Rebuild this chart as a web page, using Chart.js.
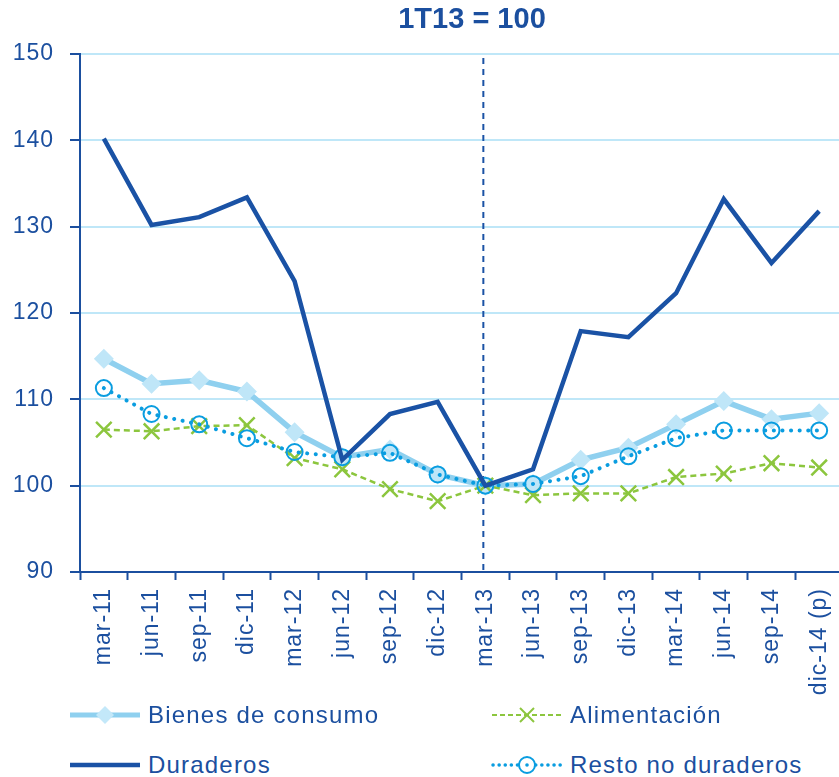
<!DOCTYPE html>
<html>
<head>
    <title>1T13 = 100</title>
    <script src="https://cdn.jsdelivr.net/npm/chart.js"></script>
    <style>
        body {
            margin: 0;
            background-color: white;
            font-family: "Liberation Sans", Arial, sans-serif;
        }
        .wrap {
            position: relative;
            width: 839px;
            height: 777px;
            overflow: hidden;
        }
        #chart {
            position: absolute;
            left: 0;
            top: 0;
        }
        .title {
            position: absolute;
            top: 2px;
            left: 322px;
            width: 300px;
            text-align: center;
            font-weight: bold;
            font-size: 29px;
            color: #1b4f9f;
        }
        .legend-item {
            position: absolute;
            display: flex;
            align-items: center;
            font-size: 24px;
            letter-spacing: 1.2px;
            color: #1b4f9f;
            white-space: nowrap;
        }
        .legend-item svg {
            margin-right: 6px;
        }
    </style>
</head>
<body>
    <div class="wrap">
        <canvas id="chart" width="843" height="702"></canvas>
        <div class="title">1T13 = 100</div>

        <div class="legend-item" style="left:68px; top:700px;">
            <svg width="74" height="30">
                <line x1="2" y1="15" x2="72" y2="15" stroke="#8fd0ef" stroke-width="5"/>
                <polygon points="37,6 46,15 37,24 28,15" fill="#c3e8f9"/>
            </svg>Bienes de consumo
        </div>
        <div class="legend-item" style="left:490px; top:700px;">
            <svg width="74" height="30">
                <line x1="2" y1="15" x2="72" y2="15" stroke="#8cc63e" stroke-width="2" stroke-dasharray="5,3"/>
                <line x1="30" y1="8" x2="44" y2="22" stroke="#8cc63e" stroke-width="2"/>
                <line x1="44" y1="8" x2="30" y2="22" stroke="#8cc63e" stroke-width="2"/>
            </svg>Alimentación
        </div>
        <div class="legend-item" style="left:68px; top:750px;">
            <svg width="74" height="30">
                <line x1="2" y1="15" x2="72" y2="15" stroke="#1a52a5" stroke-width="4.5"/>
            </svg>Duraderos
        </div>
        <div class="legend-item" style="left:490px; top:750px;">
            <svg width="74" height="30">
                <line x1="3" y1="15" x2="72" y2="15" stroke="#0a9de0" stroke-width="3.5" stroke-dasharray="0.1,6" stroke-linecap="round"/>
                <circle cx="37" cy="15" r="8" fill="white" stroke="#0a9de0" stroke-width="2"/>
                <circle cx="37" cy="15" r="1.8" fill="#0a9de0"/>
            </svg>Resto no duraderos
        </div>
    </div>

    <script>
        // Categories (quarters)
        const labels = ['mar-11', 'jun-11', 'sep-11', 'dic-11', 'mar-12', 'jun-12', 'sep-12', 'dic-12',
                        'mar-13', 'jun-13', 'sep-13', 'dic-13', 'mar-14', 'jun-14', 'sep-14', 'dic-14 (p)'];

        // Series, 1T13 = 100
        const bienesConsumo = [114.7, 111.8, 112.2, 110.9, 106.2, 103.3, 104.2, 101.3,
                               100.0, 100.2, 103.0, 104.4, 107.1, 109.8, 107.7, 108.4];
        const alimentacion = [106.5, 106.3, 106.9, 107.0, 103.2, 101.9, 99.6, 98.2,
                              100.0, 98.9, 99.1, 99.1, 101.0, 101.4, 102.6, 102.1];
        const duraderos = [140.2, 130.2, 131.1, 133.4, 123.7, 103.0, 108.3, 109.7,
                           100.0, 101.9, 117.9, 117.2, 122.3, 133.2, 125.8, 131.8];
        const restoNoDuraderos = [111.3, 108.3, 107.1, 105.5, 103.9, 103.3, 103.8, 101.3,
                                  100.0, 100.2, 101.1, 103.4, 105.5, 106.4, 106.4, 106.4];

        // Y axis ticks
        const yMin = 90;
        const yMax = 150;
        const yStep = 10;

        // Base quarter marked with dashed line
        const baseQuarter = 'mar-13';

        const darkBlue = '#1b4f9f';
        const tickFont = { size: 23, family: '"Liberation Sans", Arial, sans-serif' };

        // slightly wider letters like the original
        const spacing = {
            id: 'spacing',
            beforeLayout(chart) { chart.ctx.letterSpacing = '1px'; },
            beforeDraw(chart) { chart.ctx.letterSpacing = '1px'; }
        };

        // vertical dashed line on the base quarter
        const baseLine = {
            id: 'baseLine',
            beforeDatasetsDraw(chart) {
                const x = chart.scales.x.getPixelForValue(labels.indexOf(baseQuarter)) - 2;
                const area = chart.chartArea;
                const c = chart.ctx;
                c.save();
                c.strokeStyle = '#1a52a5';
                c.lineWidth = 2;
                c.setLineDash([6, 5]);
                c.beginPath();
                c.moveTo(x, area.top + 4);
                c.lineTo(x, area.bottom);
                c.stroke();
                c.restore();
            }
        };

        const ctx = document.getElementById('chart').getContext('2d');
        const chart = new Chart(ctx, {
            type: 'line',
            data: {
                labels: labels,
                datasets: [
                    {
                        label: 'Duraderos',
                        data: duraderos,
                        borderColor: '#1a52a5',
                        borderWidth: 4.5,
                        pointRadius: 0,
                        tension: 0,
                        fill: false
                    },
                    {
                        label: 'Resto no duraderos',
                        data: restoNoDuraderos,
                        borderColor: '#0a9de0',
                        borderWidth: 4,
                        borderDash: [0.1, 8.5],
                        borderCapStyle: 'round',
                        pointStyle: 'circle',
                        pointRadius: 8,
                        pointBorderWidth: 2,
                        pointBorderColor: '#0a9de0',
                        pointBackgroundColor: 'rgba(0,0,0,0)',
                        tension: 0,
                        fill: false
                    },
                    {
                        label: 'Alimentación',
                        data: alimentacion,
                        borderColor: '#8cc63e',
                        borderWidth: 2.5,
                        borderDash: [6, 4],
                        pointStyle: 'crossRot',
                        pointRadius: 11,
                        pointBorderWidth: 2.5,
                        pointBorderColor: '#8cc63e',
                        tension: 0,
                        fill: false
                    },
                    {
                        label: 'Bienes de consumo',
                        data: bienesConsumo,
                        borderColor: '#8fd0ef',
                        borderWidth: 5.5,
                        pointStyle: 'rectRot',
                        pointRadius: 10,
                        pointBorderWidth: 0,
                        pointBackgroundColor: '#bfe6f8',
                        tension: 0,
                        fill: false
                    }
                ]
            },
            options: {
                responsive: false,
                animation: false,
                layout: {
                    autoPadding: false,
                    padding: { top: 54, right: 0, left: 0, bottom: 0 }
                },
                plugins: {
                    legend: { display: false },
                    title: { display: false },
                    tooltip: { enabled: false }
                },
                scales: {
                    x: {
                        offset: true,
                        grid: {
                            offset: true,
                            drawOnChartArea: false,
                            tickLength: 8,
                            tickColor: darkBlue,
                            tickWidth: 2
                        },
                        border: { color: darkBlue, width: 2 },
                        ticks: {
                            color: darkBlue,
                            font: tickFont,
                            minRotation: 90,
                            maxRotation: 90,
                            autoSkip: false,
                            padding: 8
                        },
                        afterFit(s) {
                            s.height = 130;
                            s.paddingLeft = 0;
                            s.paddingRight = 0;
                        }
                    },
                    y: {
                        min: yMin,
                        max: yMax,
                        ticks: {
                            stepSize: yStep,
                            color: darkBlue,
                            font: tickFont,
                            padding: 16
                        },
                        grid: {
                            color: '#bfe7f8',
                            lineWidth: 2,
                            tickLength: 10,
                            tickColor: darkBlue,
                            tickWidth: 2
                        },
                        border: { color: darkBlue, width: 2 },
                        afterFit(s) { s.width = 80; }
                    }
                }
            },
            plugins: [spacing, baseLine]
        });
    </script>
</body>
</html>
